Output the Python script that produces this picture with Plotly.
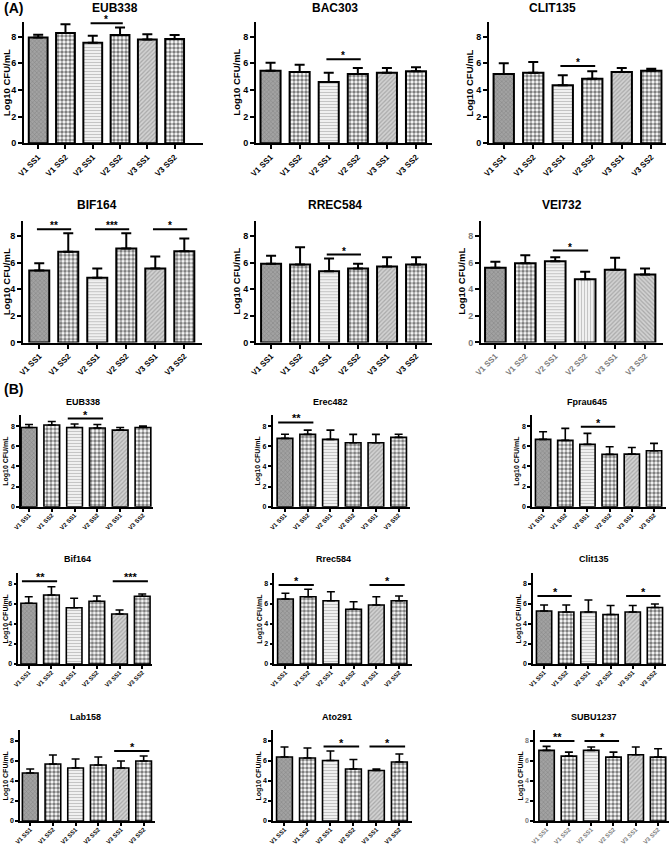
import plotly.graph_objects as go

W, H = 669, 846

categories = ["V1 SS1", "V1 SS2", "V2 SS1", "V2 SS2", "V3 SS1", "V3 SS2"]
y_ticks = [0, 2, 4, 6, 8]
y_title = "Log10 CFU/mL"

# (A) mean and SD per group
eub338_a = [7.93, 8.28, 7.55, 8.13, 7.78, 7.83]
eub338_a_sd = [0.22, 0.65, 0.52, 0.55, 0.40, 0.30]
bac303 = [5.45, 5.35, 4.60, 5.20, 5.30, 5.40]
bac303_sd = [0.60, 0.55, 0.70, 0.45, 0.35, 0.30]
clit135_a = [5.20, 5.30, 4.35, 4.85, 5.35, 5.45]
clit135_a_sd = [0.80, 0.80, 0.75, 0.55, 0.30, 0.15]
bif164_a = [5.40, 6.80, 4.85, 7.05, 5.55, 6.85]
bif164_a_sd = [0.55, 1.40, 0.70, 1.15, 0.90, 0.95]
rrec584_a = [5.90, 5.85, 5.35, 5.55, 5.70, 5.85]
rrec584_a_sd = [0.60, 1.30, 0.95, 0.35, 0.70, 0.55]
vei732 = [5.60, 5.95, 6.10, 4.75, 5.45, 5.10]
vei732_sd = [0.45, 0.60, 0.30, 0.55, 0.90, 0.45]

# (B) mean and SD per group
eub338_b = [7.85, 8.10, 7.85, 7.80, 7.60, 7.85]
eub338_b_sd = [0.30, 0.35, 0.35, 0.35, 0.25, 0.15]
erec482 = [6.78, 7.17, 6.68, 6.35, 6.35, 6.88]
erec482_sd = [0.40, 0.43, 0.92, 0.82, 0.82, 0.30]
fprau645 = [6.68, 6.58, 6.18, 5.19, 5.22, 5.55]
fprau645_sd = [0.76, 1.19, 1.09, 0.76, 0.66, 0.73]
bif164_b = [6.07, 6.90, 5.63, 6.27, 5.00, 6.77]
bif164_b_sd = [0.66, 0.83, 0.94, 0.53, 0.40, 0.23]
rrec584_b = [6.50, 6.73, 6.33, 5.47, 5.90, 6.33]
rrec584_b_sd = [0.57, 0.74, 0.90, 0.76, 0.83, 0.47]
clit135_b = [5.30, 5.20, 5.20, 4.95, 5.20, 5.65]
clit135_b_sd = [0.60, 0.70, 1.20, 0.90, 0.65, 0.35]
lab158 = [4.80, 5.70, 5.30, 5.60, 5.30, 6.00]
lab158_sd = [0.40, 0.90, 0.90, 0.80, 0.70, 0.50]
ato291 = [6.40, 6.30, 6.05, 5.20, 5.05, 5.90]
ato291_sd = [1.00, 1.00, 0.95, 0.95, 0.15, 0.80]
subu1237 = [7.06, 6.49, 7.06, 6.39, 6.62, 6.39]
subu1237_sd = [0.40, 0.40, 0.34, 0.50, 0.78, 0.84]

# significance brackets: (first bar, second bar, height, label)
eub338_a_sig = [(2, 3, 9.0, "*")]
bac303_sig = [(2, 3, 6.3, "*")]
clit135_a_sig = [(2, 3, 5.8, "*")]
bif164_a_sig = [(0, 1, 8.5, "**"), (2, 3, 8.5, "***"), (4, 5, 8.5, "*")]
rrec584_a_sig = [(2, 3, 6.6, "*")]
vei732_sig = [(2, 3, 6.9, "*")]
eub338_b_sig = [(2, 3, 8.75, "*")]
erec482_sig = [(0, 1, 8.36, "**")]
fprau645_sig = [(2, 3, 7.93, "*")]
bif164_b_sig = [(0, 1, 8.27, "**"), (4, 5, 8.27, "***")]
rrec584_b_sig = [(0, 1, 7.9, "*"), (4, 5, 7.9, "*")]
clit135_b_sig = [(0, 1, 6.8, "*"), (4, 5, 6.8, "*")]
lab158_sig = [(4, 5, 7.0, "*")]
ato291_sig = [(2, 3, 7.45, "*"), (4, 5, 7.45, "*")]
subu1237_sig = [(0, 1, 8.0, "**"), (2, 3, 8.0, "*")]

PAT = {
    "dense": dict(shape="x", fgcolor="#5e5e5e", bgcolor="#a2a2a2", size=3, solidity=0.3),
    "checker": dict(shape=".", fgcolor="#000000", bgcolor="#ffffff", size=4, solidity=0.6),
    "hlines": dict(shape="-", fgcolor="#8a8a8a", bgcolor="#ffffff", size=3, solidity=0.5),
    "vlines": dict(shape="|", fgcolor="#8a8a8a", bgcolor="#ffffff", size=3, solidity=0.5),
    "diag": dict(shape="/", fgcolor="#808080", bgcolor="#d2d2d2", size=3, solidity=0.4),
    "diag2": dict(shape="\\", fgcolor="#808080", bgcolor="#d2d2d2", size=3, solidity=0.4),
}
pat_std = ["dense", "checker", "hlines", "checker", "diag", "checker"]
pat_vei = ["dense", "checker", "hlines", "vlines", "diag", "diag2"]

# row geometry in pixels: y of zero line, pixels per unit, title y
rows = {
    "A1": dict(zero=143.3, ppu=13.33, ty=8, big=True),
    "A2": dict(zero=342.5, ppu=13.33, ty=205, big=True),
    "B1": dict(zero=506.7, ppu=10.08, ty=402, big=False),
    "B2": dict(zero=664.0, ppu=10.0, ty=559, big=False),
    "B3": dict(zero=821.0, ppu=10.0, ty=717, big=False),
}

# title, data, sd, sig, patterns, row, x0, x1, range, title x, gray ticks
panels = [
    ("EUB338", eub338_a, eub338_a_sd, eub338_a_sig, pat_std, "A1", 24, 203, (-0.52, 6.04), 115, False),
    ("BAC303", bac303, bac303_sd, bac303_sig, pat_std, "A1", 256, 432, (-0.5, 5.55), 335, False),
    ("CLIT135", clit135_a, clit135_a_sd, clit135_a_sig, pat_std, "A1", 489, 666, (-0.5, 5.5), 552, False),
    ("BIF164", bif164_a, bif164_a_sd, bif164_a_sig, pat_std, "A2", 23, 202, (-0.56, 5.61), 97, False),
    ("RREC584", rrec584_a, rrec584_a_sd, rrec584_a_sig, pat_std, "A2", 256, 432, (-0.52, 5.55), 335, False),
    ("VEI732", vei732, vei732_sd, vei732_sig, pat_vei, "A2", 481, 663, (-0.48, 5.6), 562, True),
    ("EUB338", eub338_b, eub338_b_sd, eub338_b_sig, pat_std, "B1", 21, 153, (-0.35, 5.44), 83, False),
    ("Erec482", erec482, erec482_sd, erec482_sig, pat_std, "B1", 272.7, 410, (-0.54, 5.5), 330, False),
    ("Fprau645", fprau645, fprau645_sd, fprau645_sig, pat_std, "B1", 532, 666, (-0.5, 5.54), 587, False),
    ("Bif164", bif164_b, bif164_b_sd, bif164_b_sig, pat_std, "B2", 18.3, 152, (-0.46, 5.43), 77, False),
    ("Rrec584", rrec584_b, rrec584_b_sd, rrec584_b_sig, pat_std, "B2", 274.3, 412, (-0.49, 5.57), 333, False),
    ("Clit135", clit135_b, clit135_b_sd, clit135_b_sig, pat_std, "B2", 533, 666, (-0.5, 5.5), 594, False),
    ("Lab158", lab158, lab158_sd, lab158_sig, pat_std, "B3", 20, 155, (-0.45, 5.5), 85, False),
    ("Ato291", ato291, ato291_sd, ato291_sig, pat_std, "B3", 273, 412, (-0.5, 5.55), 337, False),
    ("SUBU1237", subu1237, subu1237_sd, subu1237_sig, pat_std, "B3", 535, 669, (-0.52, 5.49), 594, True),
]

FONT = "Liberation Sans, Arial, sans-serif"
YMAX = 9.1

fig = go.Figure()
annotations = []
shapes = []

for n, (title, vals, sd, sig, pats, rkey, x0, x1, xr, tx, gray) in enumerate(panels, start=1):
    row = rows[rkey]
    big = row["big"]
    sfx = "" if n == 1 else str(n)
    xa, ya = "x" + sfx, "y" + sfx
    lw = 2 if big else 1.6
    tick_color = "#7a7a7a" if gray else "#000000"

    fig.add_trace(go.Bar(
        x=categories, y=vals, xaxis=xa, yaxis=ya, showlegend=False,
        marker=dict(
            line=dict(color="#000000", width=lw),
            pattern=dict(
                shape=[PAT[p]["shape"] for p in pats],
                fgcolor=[PAT[p]["fgcolor"] for p in pats],
                bgcolor=[PAT[p]["bgcolor"] for p in pats],
                size=[PAT[p]["size"] for p in pats],
                solidity=[PAT[p]["solidity"] for p in pats],
            ),
        ),
        error_y=dict(type="data", array=sd, arrayminus=[0] * len(sd), symmetric=False,
                     color="#000000", thickness=lw, width=5 if big else 4),
    ))

    top = row["zero"] - YMAX * row["ppu"]
    axis_common = dict(showline=True, linecolor="#000000", linewidth=lw, ticks="outside",
                       ticklen=4 if big else 3, tickwidth=lw, tickcolor="#000000",
                       showgrid=False, zeroline=False, fixedrange=True, automargin=False)
    fig.update_layout(**{
        "xaxis" + sfx: dict(domain=[x0 / W, x1 / W], anchor=ya, range=list(xr),
                            tickangle=-45, type="category",
                            ticklabelstandoff=0 if big else -2,
                            tickfont=dict(family=FONT, size=8 if big else 6, color=tick_color, weight="bold"),
                            **axis_common),
        "yaxis" + sfx: dict(domain=[1 - row["zero"] / H, 1 - top / H], anchor=xa,
                            range=[0, YMAX], tickvals=y_ticks,
                            tickfont=dict(family=FONT, size=9 if big else 7, color=tick_color, weight="bold"),
                            **axis_common),
    })

    # panel title
    annotations.append(dict(text=title, x=tx / W, y=1 - row["ty"] / H, xref="paper", yref="paper",
                            showarrow=False, xanchor="center", yanchor="middle",
                            font=dict(family=FONT, size=12 if big else 9, weight="bold", color="#000000")))
    # y title
    ytx = max(x0 - 19, 6.5) if big else max(x0 - 15, 5)
    annotations.append(dict(text=y_title, x=ytx / W,
                            y=1 - (row["zero"] + top) / 2 / H, xref="paper", yref="paper",
                            showarrow=False, textangle=-90, xanchor="center", yanchor="middle",
                            font=dict(family=FONT, size=9.5 if big else 7, weight="bold", color="#000000")))
    # significance brackets
    lo, hi = (0.08, 0.1) if big else (0.3, 0.25)
    for i, j, level, label in sig:
        shapes.append(dict(type="line", xref=xa, yref=ya, x0=i - lo, x1=j + hi, y0=level, y1=level,
                           line=dict(color="#000000", width=2)))
        annotations.append(dict(text=label, x=(i + j) / 2, y=level, xref=xa, yref=ya,
                                showarrow=False, xanchor="center", yanchor="bottom", yshift=-4,
                                font=dict(family=FONT, size=10 if big else 11, weight="bold", color="#000000")))

for lab, ypx in [("(A)", 8), ("(B)", 389)]:
    annotations.append(dict(text=lab, x=2 / W, y=1 - ypx / H, xref="paper", yref="paper",
                            showarrow=False, xanchor="left", yanchor="middle",
                            font=dict(family=FONT, size=14, weight="bold", color="#000000")))

fig.update_layout(
    width=W, height=H, margin=dict(l=0, r=0, t=0, b=0, autoexpand=False),
    paper_bgcolor="#ffffff", plot_bgcolor="#ffffff",
    bargap=0.31, annotations=annotations, shapes=shapes,
    font=dict(family=FONT),
)

fig.write_html("out.html", config={"displayModeBar": False},
               post_script="document.body.style.margin='0';")
